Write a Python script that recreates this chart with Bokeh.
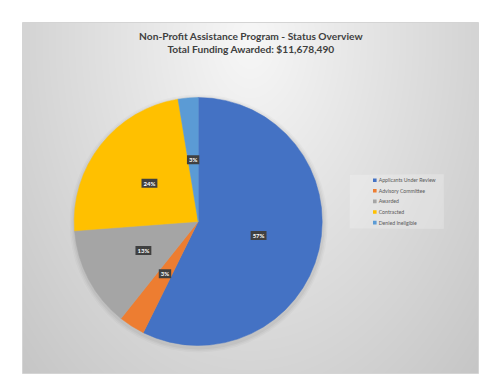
import numpy as np
from bokeh.plotting import figure
from bokeh.models import Range1d
from bokeh.core.properties import value
from bokeh.embed import file_html
from bokeh.resources import INLINE

# ---- data ----
title_lines = ["Non-Profit Assistance Program - Status Overview",
               "Total Funding Awarded: $11,678,490"]
categories = ["Applicants Under Review", "Advisory Committee", "Awarded",
              "Contracted", "Denied Ineligible"]
shares = [57.3, 3.4, 13.1, 23.6, 2.6]
colors = ["#4472C4", "#ED7D31", "#A5A5A5", "#FFC000", "#5B9BD5"]

# ---- layout (pixel-based data space; data x = page x, data y = H - page y) ----
W, H = 490, 380
p = figure(width=W, height=H, x_range=Range1d(0, W), y_range=Range1d(0, H),
           output_backend="svg", toolbar_location=None, min_border=0,
           x_axis_type=None, y_axis_type=None)
p.grid.visible = False
p.outline_line_color = None
p.background_fill_color = "white"
p.border_fill_color = "white"

def Y(py):
    return H - py

# chart area box with radial gradient
px0, px1, py0, py1 = 22, 478, 22, 373
nx, ny = px1 - px0, py1 - py0
xs = np.arange(nx) + 0.5 + px0
ys = py1 - (np.arange(ny) + 0.5)       # row 0 = bottom
XX, YY = np.meshgrid(xs, ys)
t = np.sqrt(((XX - 250) / 228.0) ** 2 + ((YY - 40) / 340.0) ** 2)
g = np.clip(247 - 35 * t, 190, 250).astype(np.uint8)
img = np.empty((ny, nx), dtype=np.uint32)
view = img.view(dtype=np.uint8).reshape((ny, nx, 4))
view[:, :, 0] = g
view[:, :, 1] = g
view[:, :, 2] = g
view[:, :, 3] = 255
p.image_rgba(image=[img], x=px0, y=Y(py1), dw=nx, dh=ny)
p.quad(left=px0, right=px1, bottom=Y(py1), top=Y(py0), fill_color=None,
       line_color="#d4d4d4", line_width=1)

# title
for i, line in enumerate(title_lines):
    p.text(x=[250.5], y=[Y(35.3 + i * 13.4)], text=[line], text_align="center",
           text_baseline="middle", text_font=value("Lato"),
           text_font_style="bold", text_font_size="10.2px", text_color="#404040")

# pie
cx, cy, R = 197.7, Y(221.0), 124.0
for k, a in [(5, 0.025), (3.5, 0.03), (2, 0.04)]:
    p.circle(x=[cx + 0.5], y=[cy - 2], radius=R + k, fill_color="black",
             fill_alpha=a, line_color=None)

frac = np.array(shares) / np.sum(shares)
cum = np.concatenate([[0], np.cumsum(frac)]) * 2 * np.pi
starts = np.pi / 2 - cum[1:]
ends = np.pi / 2 - cum[:-1]
p.wedge(x=cx, y=cy, radius=R, start_angle=starts, end_angle=ends,
        direction="anticlock", fill_color=colors, line_color=colors,
        line_width=0.5)

mids = (starts + ends) / 2
lx = cx + 0.5 * R * np.cos(mids)
ly = cy + 0.5 * R * np.sin(mids)
labels = [f"{round(s)}%" for s in shares]
p.text(x=lx, y=ly, text=labels, text_align="center", text_baseline="middle",
       text_font=value("Lato"), text_font_style="bold", text_font_size="6px",
       text_color="white", background_fill_color="#404040",
       padding=(2, 1))

# legend
p.quad(left=349, right=443, bottom=Y(228), top=Y(174),
       fill_color="white", fill_alpha=0.22, line_color="#e0e0e0", line_alpha=0.5)
ly_leg = [Y(179.7 + i * 10.6) for i in range(len(categories))]
p.rect(x=[374.3] * len(categories), y=ly_leg, width=3.6, height=3.6,
       fill_color=colors, line_color=None)
p.text(x=[378.2] * len(categories), y=ly_leg, text=categories,
       text_align="left", text_baseline="middle", text_font=value("Lato"),
       text_font_size="5.2px", text_color="#595959")

open("out.html", "w").write(file_html(p, INLINE))
